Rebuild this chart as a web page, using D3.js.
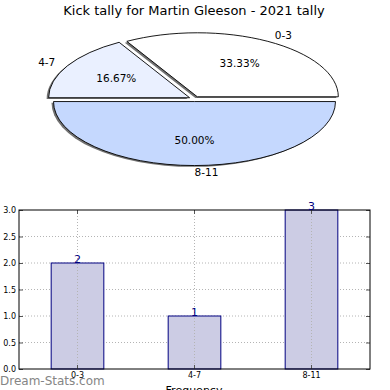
<!DOCTYPE html>
<html>
<head>
<meta charset="utf-8">
<script src="https://cdn.jsdelivr.net/npm/d3@7"></script>
<style>
  body { margin: 0; background: #fff; }
  svg { display: block; font-family: "DejaVu Sans", sans-serif; }
</style>
</head>
<body>
<div id="chart"></div>
<script>
const title = "Kick tally for Martin Gleeson - 2021 tally";
const categories = ["0-3", "4-7", "8-11"];
const counts = [2, 1, 3];
const sliceColors = ["#ffffff", "#eaf0ff", "#c5d8fe"];
const yTicks = [0, 0.5, 1, 1.5, 2, 2.5, 3];

const W = 390, H = 390;
const svg = d3.select("#chart").append("svg")
    .attr("width", W)
    .attr("height", H);

svg.append("text")
    .attr("x", 194)
    .attr("y", 15)
    .attr("text-anchor", "middle")
    .style("font-size", "13px")
    .text(title);

// ---- pie (stretched to an ellipse, exploded, with shadows)
const cx = 194.5, cy = 99, rx = 141, ry = 64, explode = 0.04;
const total = d3.sum(counts);

// start at 3 o'clock and go anticlockwise like the original
const pie = d3.pie().sort(null)
    .startAngle(Math.PI / 2)
    .endAngle(Math.PI / 2 - 2 * Math.PI);
const arcs = pie(counts);
const arc = d3.arc().innerRadius(0).outerRadius(1);

const pieG = svg.append("g")
    .attr("transform", "translate(" + cx + "," + cy + ") scale(" + rx + "," + ry + ")");

function offset(d, r) {
    let mid = (d.startAngle + d.endAngle) / 2;
    return [Math.sin(mid) * r, -Math.cos(mid) * r];
}

// shadows first
pieG.selectAll("path.shadow")
    .data(arcs)
    .enter().append("path")
    .attr("class", "shadow")
    .attr("d", arc)
    .attr("transform", function(d) {
        let o = offset(d, explode);
        return "translate(" + (o[0] - 2 / rx) + "," + (o[1] + 1.3 / ry) + ")";
    })
    .style("fill", "#4d4d4d")
    .style("opacity", 0.8);

pieG.selectAll("path.slice")
    .data(arcs)
    .enter().append("path")
    .attr("class", "slice")
    .attr("d", arc)
    .attr("transform", function(d) {
        let o = offset(d, explode);
        return "translate(" + o[0] + "," + o[1] + ")";
    })
    .attr("vector-effect", "non-scaling-stroke")
    .style("fill", function(d, i) { return sliceColors[i]; })
    .style("stroke", "#000")
    .style("stroke-width", 0.9);

// labels outside
svg.selectAll("text.plabel")
    .data(arcs)
    .enter().append("text")
    .attr("class", "plabel")
    .attr("x", function(d) { return cx + offset(d, 1.1 + explode)[0] * rx; })
    .attr("y", function(d) { return cy + offset(d, 1.1 + explode)[1] * ry; })
    .attr("dy", "0.35em")
    .attr("text-anchor", function(d) {
        return offset(d, 1)[0] > -0.01 ? "start" : "end";
    })
    .style("font-size", "10.5px")
    .text(function(d, i) { return categories[i]; });

svg.selectAll("text.pct")
    .data(arcs)
    .enter().append("text")
    .attr("class", "pct")
    .attr("x", function(d) { return cx + offset(d, 0.6 + explode)[0] * rx; })
    .attr("y", function(d) { return cy + offset(d, 0.6 + explode)[1] * ry; })
    .attr("dy", "0.35em")
    .attr("text-anchor", "middle")
    .style("font-size", "10.5px")
    .text(function(d) { return (d.value / total * 100).toFixed(2) + "%"; });

// ---- bar chart
const plotLeft = 19, plotRight = 370, plotTop = 210, plotBottom = 369;

const x = d3.scaleBand()
    .domain(categories)
    .range([plotLeft, plotRight])
    .paddingInner(0.55)
    .paddingOuter(0.275);

const y = d3.scaleLinear()
    .domain([0, 3])
    .range([plotBottom, plotTop]);

const grid = svg.append("g").attr("class", "grid")
    .style("stroke", "#b4b4b4")
    .style("stroke-dasharray", "1,2");

grid.selectAll("line.h")
    .data(yTicks.slice(1, -1))
    .enter().append("line")
    .attr("x1", plotLeft).attr("x2", plotRight)
    .attr("y1", function(d) { return y(d); })
    .attr("y2", function(d) { return y(d); });

svg.selectAll("rect.bar")
    .data(counts)
    .enter().append("rect")
    .attr("class", "bar")
    .attr("x", function(d, i) { return x(categories[i]); })
    .attr("y", function(d) { return y(d); })
    .attr("width", x.bandwidth())
    .attr("height", function(d) { return plotBottom - y(d); })
    .style("fill", "#ccccE4")
    .style("stroke", "#000080")
    .style("stroke-width", 1);

// vertical grid lines sit over the bars
const vgrid = svg.append("g")
    .style("stroke", "#b4b4b4")
    .style("stroke-dasharray", "1,2");
vgrid.selectAll("line.v")
    .data(categories)
    .enter().append("line")
    .attr("x1", function(d) { return x(d) + x.bandwidth() / 2; })
    .attr("x2", function(d) { return x(d) + x.bandwidth() / 2; })
    .attr("y1", plotTop).attr("y2", plotBottom);

const yAxis = d3.axisLeft(y)
    .tickValues(yTicks)
    .tickFormat(d3.format(".1f"))
    .tickSizeInner(-4)
    .tickSizeOuter(0)
    .tickPadding(3);

const xAxis = d3.axisBottom(x)
    .tickSizeInner(-4)
    .tickSizeOuter(0)
    .tickPadding(3);

const gy = svg.append("g")
    .attr("transform", "translate(" + plotLeft + ",0)")
    .call(yAxis);

const gx = svg.append("g")
    .attr("transform", "translate(0," + plotBottom + ")")
    .call(xAxis);

// inward ticks on the right and top too
svg.append("g")
    .attr("transform", "translate(" + plotRight + ",0)")
    .call(d3.axisRight(y).tickValues(yTicks).tickSizeInner(-4).tickSizeOuter(0).tickFormat(""));
svg.append("g")
    .attr("transform", "translate(0," + plotTop + ")")
    .call(d3.axisTop(x).tickSizeInner(-4).tickSizeOuter(0).tickFormat(""));

svg.selectAll(".tick line").style("stroke", "#555");
svg.selectAll(".domain").remove();
[gx, gy].forEach(function(g) {
    g.selectAll("text")
        .style("font-family", "'DejaVu Sans', sans-serif")
        .style("font-size", "8px")
        .style("fill", "#000");
});

svg.append("rect")
    .attr("x", plotLeft).attr("y", plotTop)
    .attr("width", plotRight - plotLeft).attr("height", plotBottom - plotTop)
    .style("fill", "none")
    .style("stroke", "#000")
    .style("stroke-width", 1);

svg.selectAll("text.val")
    .data(counts)
    .enter().append("text")
    .attr("class", "val")
    .attr("x", function(d, i) { return x(categories[i]) + x.bandwidth() / 2; })
    .attr("y", function(d) { return y(d); })
    .attr("text-anchor", "middle")
    .style("font-size", "11px")
    .style("fill", "#000080")
    .text(function(d) { return d; });

svg.append("text")
    .attr("x", 194)
    .attr("y", 394)
    .attr("text-anchor", "middle")
    .style("font-size", "11px")
    .text("Frequency");

svg.append("text")
    .attr("x", 0)
    .attr("y", 385)
    .style("font-size", "12px")
    .style("fill", "#858585")
    .text("Dream-Stats.com");
</script>
</body>
</html>
